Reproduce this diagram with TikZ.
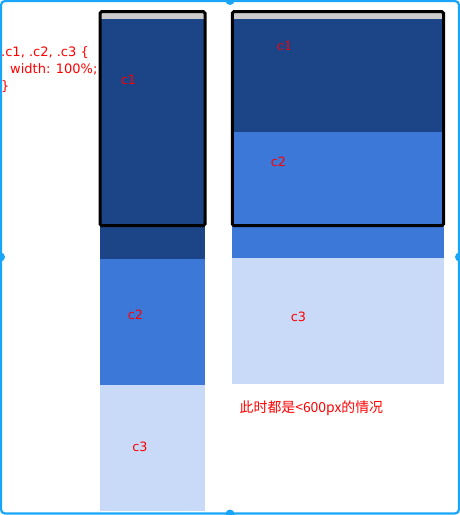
\documentclass[tikz,border=0pt]{standalone}
\usepackage{fontspec}
\setmainfont{DejaVu Sans}
\newfontfamily\serifc{DejaVu Serif}
\newfontfamily\cjk{Noto Sans CJK SC}
\definecolor{darkb}{HTML}{1C4587}
\definecolor{midb}{HTML}{3C78D8}
\definecolor{lightb}{HTML}{C9DAF8}
\definecolor{barg}{HTML}{CCCCCC}
\definecolor{frameb}{HTML}{1AA6F8}
\definecolor{txtred}{HTML}{FF0000}
\tikzset{
  lbl/.style={text=txtred, inner sep=0pt, font=\fontsize{12.8}{14}\selectfont},
  border/.style={draw=black, line width=3pt, rounded corners=1.5pt},
  handle/.style={circle, fill=frameb, minimum size=9pt, inner sep=0pt},
}
\begin{document}
\begin{tikzpicture}[x=1pt,y=-1pt]
\useasboundingbox (0,0) rectangle (460,515);
\begin{scope}
\clip (0,0) rectangle (460,515);
% outer selection frame
\draw[frameb, line width=2.2pt, rounded corners=4pt] (1,1) rectangle (459,513.5);
\node[handle] (h1) at (230,0.5) {};
\node[handle] (h2) at (0.5,257) {};
\node[handle] (h3) at (459.5,257) {};
\node[handle] (h4) at (230,514) {};
\end{scope}
% left column
\fill[barg] (100,12) rectangle (205,18.5);
\fill[darkb] (100,18.5) rectangle (205,259);
\fill[midb] (100,259) rectangle (205,385);
\fill[lightb] (100,385) rectangle (205,510.5);
\draw[border] (100,11.7) rectangle (205,225.5);
% right column
\fill[barg] (232.3,12) rectangle (443.5,18.5);
\fill[darkb] (232.3,18.5) rectangle (443.5,132);
\fill[midb] (232.3,132) rectangle (443.5,257.5);
\fill[lightb] (232.3,257.5) rectangle (443.5,383.5);
\draw[border] (232.3,11.7) rectangle (443.5,225.5);
% labels
\node[lbl] (l1) at (128.5,79.5) {c1};
\node[lbl] (l2) at (135.5,315) {c2};
\node[lbl] (l3) at (140,446.5) {c3};
\node[lbl, font=\serifc\fontsize{12.8}{14}\selectfont] (r1) at (284.5,46) {c1};
\node[lbl] (r2) at (278.5,162) {c2};
\node[lbl] (r3) at (298.5,316.5) {c3};
% css text
\node[text=txtred, inner sep=0pt, anchor=west, font=\fontsize{13}{16}\selectfont] (css1) at (1,52.5) {.c1, .c2, .c3 \{};
\node[text=txtred, inner sep=0pt, anchor=west, font=\fontsize{13}{16}\selectfont] (css2) at (10,69.5) {width: 100\%;};
\node[text=txtred, inner sep=0pt, anchor=west, font=\fontsize{13}{16}\selectfont] (css3) at (1,86.5) {\}};
% note
\node[text=txtred, inner sep=0pt, anchor=west, font=\cjk\fontsize{13.9}{16}\selectfont] (note) at (239.5,408.5) {此时都是<600px的情况};
\end{tikzpicture}
\end{document}
